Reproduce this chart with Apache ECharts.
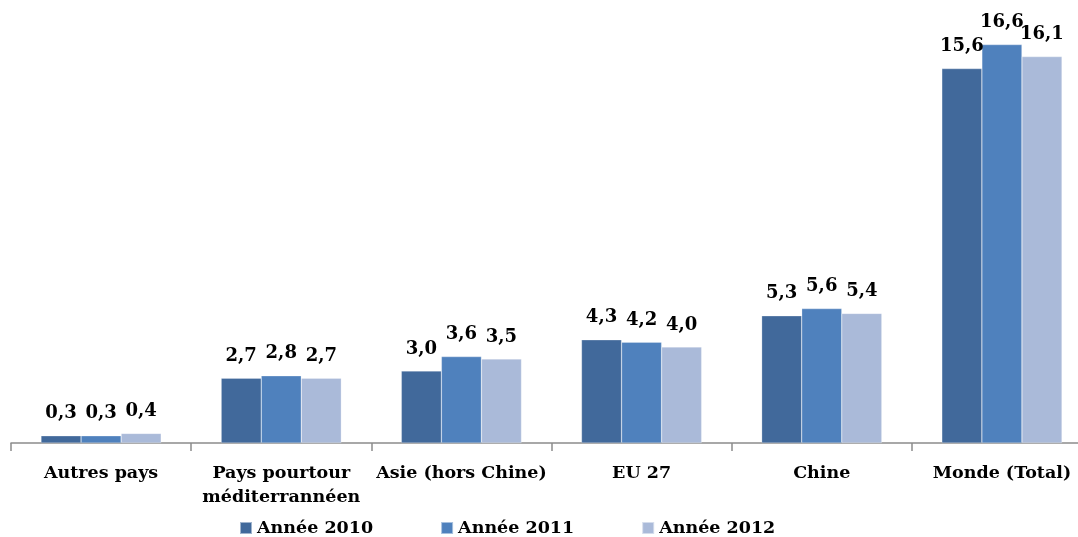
<!DOCTYPE html>
<html>
<head>
<meta charset="utf-8">
<script src="https://cdn.jsdelivr.net/npm/echarts@6/dist/echarts.min.js"></script>
<style>
  html, body { margin: 0; padding: 0; background: #fff; overflow: hidden; }
  #chart { width: 1092px; height: 537px; }
</style>
</head>
<body>
<div id="chart"></div>
<script>
const categories = ['Autres pays', 'Pays pourtour\nméditerrannéen', 'Asie (hors Chine)', 'EU 27', 'Chine', 'Monde (Total)'];
const seriesNames = ['Année 2010', 'Année 2011', 'Année 2012'];
const values2010 = [0.3, 2.7, 3.0, 4.3, 5.3, 15.6];
const values2011 = [0.3, 2.8, 3.6, 4.2, 5.6, 16.6];
const values2012 = [0.4, 2.7, 3.5, 4.0, 5.4, 16.1];
const colors = ['#41699b', '#4f81bd', '#aabad9'];

const font = 'DejaVu Serif';
const chart = echarts.init(document.getElementById('chart'));

const makeSeries = (name, data, i) => ({
  name,
  type: 'bar',
  data,
  barGap: 0,
  barCategoryGap: '33.3%',
  itemStyle: { color: colors[i], borderColor: 'rgba(255,255,255,0.5)', borderWidth: 0.5 },
  label: {
    show: true,
    position: 'top',
    distance: 13,
    fontFamily: font,
    fontWeight: 'bold',
    fontSize: 18,
    color: '#000',
    formatter: (p) => p.value.toFixed(1).replace('.', ',')
  }
});

chart.setOption({
  animation: false,
  grid: { left: 11, right: 0, top: 11, bottom: 94, containLabel: false },
  legend: {
    top: 514,
    left: 234,
    itemWidth: 12,
    itemHeight: 12,
    itemGap: 67,
    icon: 'rect',
    textStyle: { fontFamily: font, fontWeight: 'bold', fontSize: 17.5, color: '#000' },
    data: seriesNames
  },
  xAxis: {
    type: 'category',
    data: categories,
    axisLine: { lineStyle: { color: '#8c8c8c', width: 1.5 } },
    axisTick: { show: true, length: 8, lineStyle: { color: '#8c8c8c', width: 1.5 } },
    axisLabel: {
      interval: 0,
      margin: 18,
      fontFamily: font,
      fontWeight: 'bold',
      fontSize: 17.5,
      color: '#000',
      lineHeight: 24
    }
  },
  yAxis: {
    type: 'value',
    min: 0,
    max: 18,
    show: false,
    splitLine: { show: false }
  },
  series: [
    makeSeries(seriesNames[0], values2010, 0),
    makeSeries(seriesNames[1], values2011, 1),
    makeSeries(seriesNames[2], values2012, 2)
  ]
});
</script>
</body>
</html>
